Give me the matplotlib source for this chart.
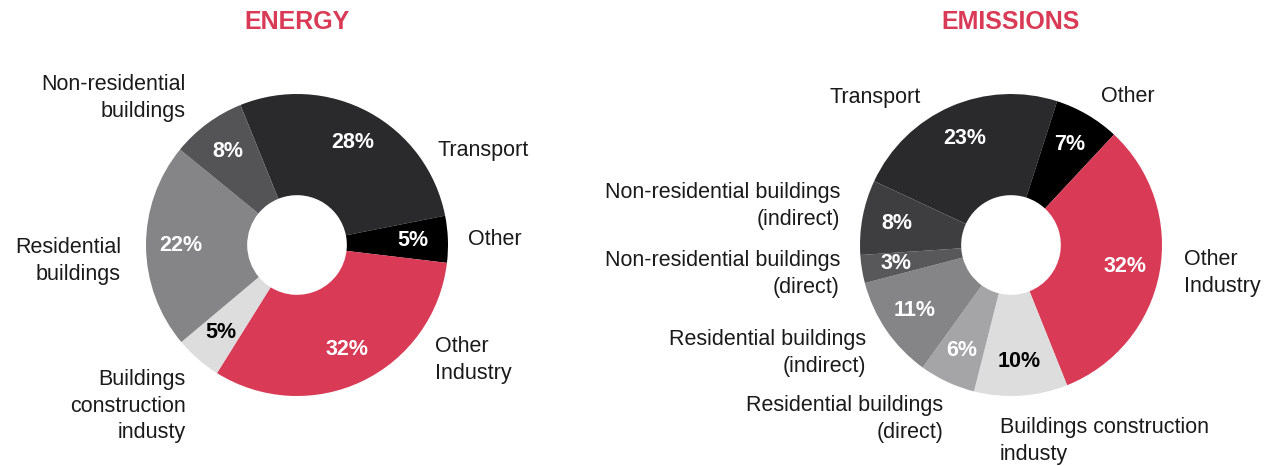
import matplotlib.pyplot as plt

plt.rcParams['font.family'] = ['Liberation Sans', 'DejaVu Sans']

W, H = 1275, 466
RED = '#d93a56'

# energy shares, clockwise from the top
energy_labels = ['Transport', 'Other', 'Other Industry', 'Buildings construction industy',
                 'Residential buildings', 'Non-residential buildings']
energy_values = [28, 5, 32, 5, 22, 8]
energy_colors = ['#2a2a2d', '#000000', RED, '#dcdddc', '#858587', '#545456']

# emissions shares, clockwise from the top
emis_labels = ['Transport', 'Other', 'Other Industry', 'Buildings construction industy',
               'Residential buildings (direct)', 'Residential buildings (indirect)',
               'Non-residential buildings (direct)', 'Non-residential buildings (indirect)']
emis_values = [23, 7, 32, 10, 6, 11, 3, 8]
emis_colors = ['#2a2a2d', '#000000', RED, '#dcdddc', '#a5a5a7', '#858587', '#58585a', '#3e3e41']


def px_axes(fig, cx, cy, r):
    # axes square of side 2r centred on pixel (cx, cy), y from top
    return fig.add_axes([(cx - r) / W, (H - cy - r) / H, 2 * r / W, 2 * r / H])


def donut(ax, values, colors, start):
    wedges, _, pcts = ax.pie(values, colors=colors, startangle=start, counterclock=False,
                             radius=1, autopct='%d%%', pctdistance=0.77,
                             wedgeprops=dict(width=0.67, linewidth=0),
                             textprops=dict(fontsize=15.5, fontweight='bold', color='white'))
    for w, t in zip(wedges, pcts):
        if w.get_facecolor()[0] > 0.8 and w.get_facecolor()[1] > 0.8:
            t.set_color('black')
    ax.set_xlim(-1, 1)
    ax.set_ylim(-1, 1)
    ax.set_aspect('equal')
    ax.axis('off')


def label(fig, x, y, s, ha='left'):
    fig.text(x / W, 1 - y / H, s, ha=ha, va='center', fontsize=15.5,
             color='#1a1a1a', linespacing=1.32)


fig = plt.figure(figsize=(W / 100, H / 100), dpi=100)

ax1 = px_axes(fig, 297, 245, 151)
donut(ax1, energy_values, energy_colors, 112)
ax2 = px_axes(fig, 1011, 245, 151)
donut(ax2, emis_values, emis_colors, 155)

fig.text(297 / W, 1 - 22 / H, 'ENERGY', ha='center', va='center',
         fontsize=18, fontweight='bold', color=RED)
fig.text(1011 / W, 1 - 22 / H, 'EMISSIONS', ha='center', va='center',
         fontsize=18, fontweight='bold', color=RED)

# energy labels
label(fig, 186, 98, 'Non-residential\nbuildings', ha='right')
label(fig, 438, 150, 'Transport')
label(fig, 468, 239, 'Other')
label(fig, 435, 360, 'Other\nIndustry')
label(fig, 186, 406, 'Buildings\nconstruction\nindusty', ha='right')
label(fig, 121, 261, 'Residential\nbuildings', ha='right')

# emissions labels
label(fig, 921, 97, 'Transport', ha='right')
label(fig, 1101, 97, 'Other')
label(fig, 840, 206, 'Non-residential buildings\n(indirect)', ha='right')
label(fig, 840, 274, 'Non-residential buildings\n(direct)', ha='right')
label(fig, 1184, 273, 'Other\nIndustry')
label(fig, 866, 353, 'Residential buildings\n(indirect)', ha='right')
label(fig, 943, 419, 'Residential buildings\n(direct)', ha='right')
label(fig, 1000, 441, 'Buildings construction\nindusty')

fig.savefig('out.png', dpi=100)
